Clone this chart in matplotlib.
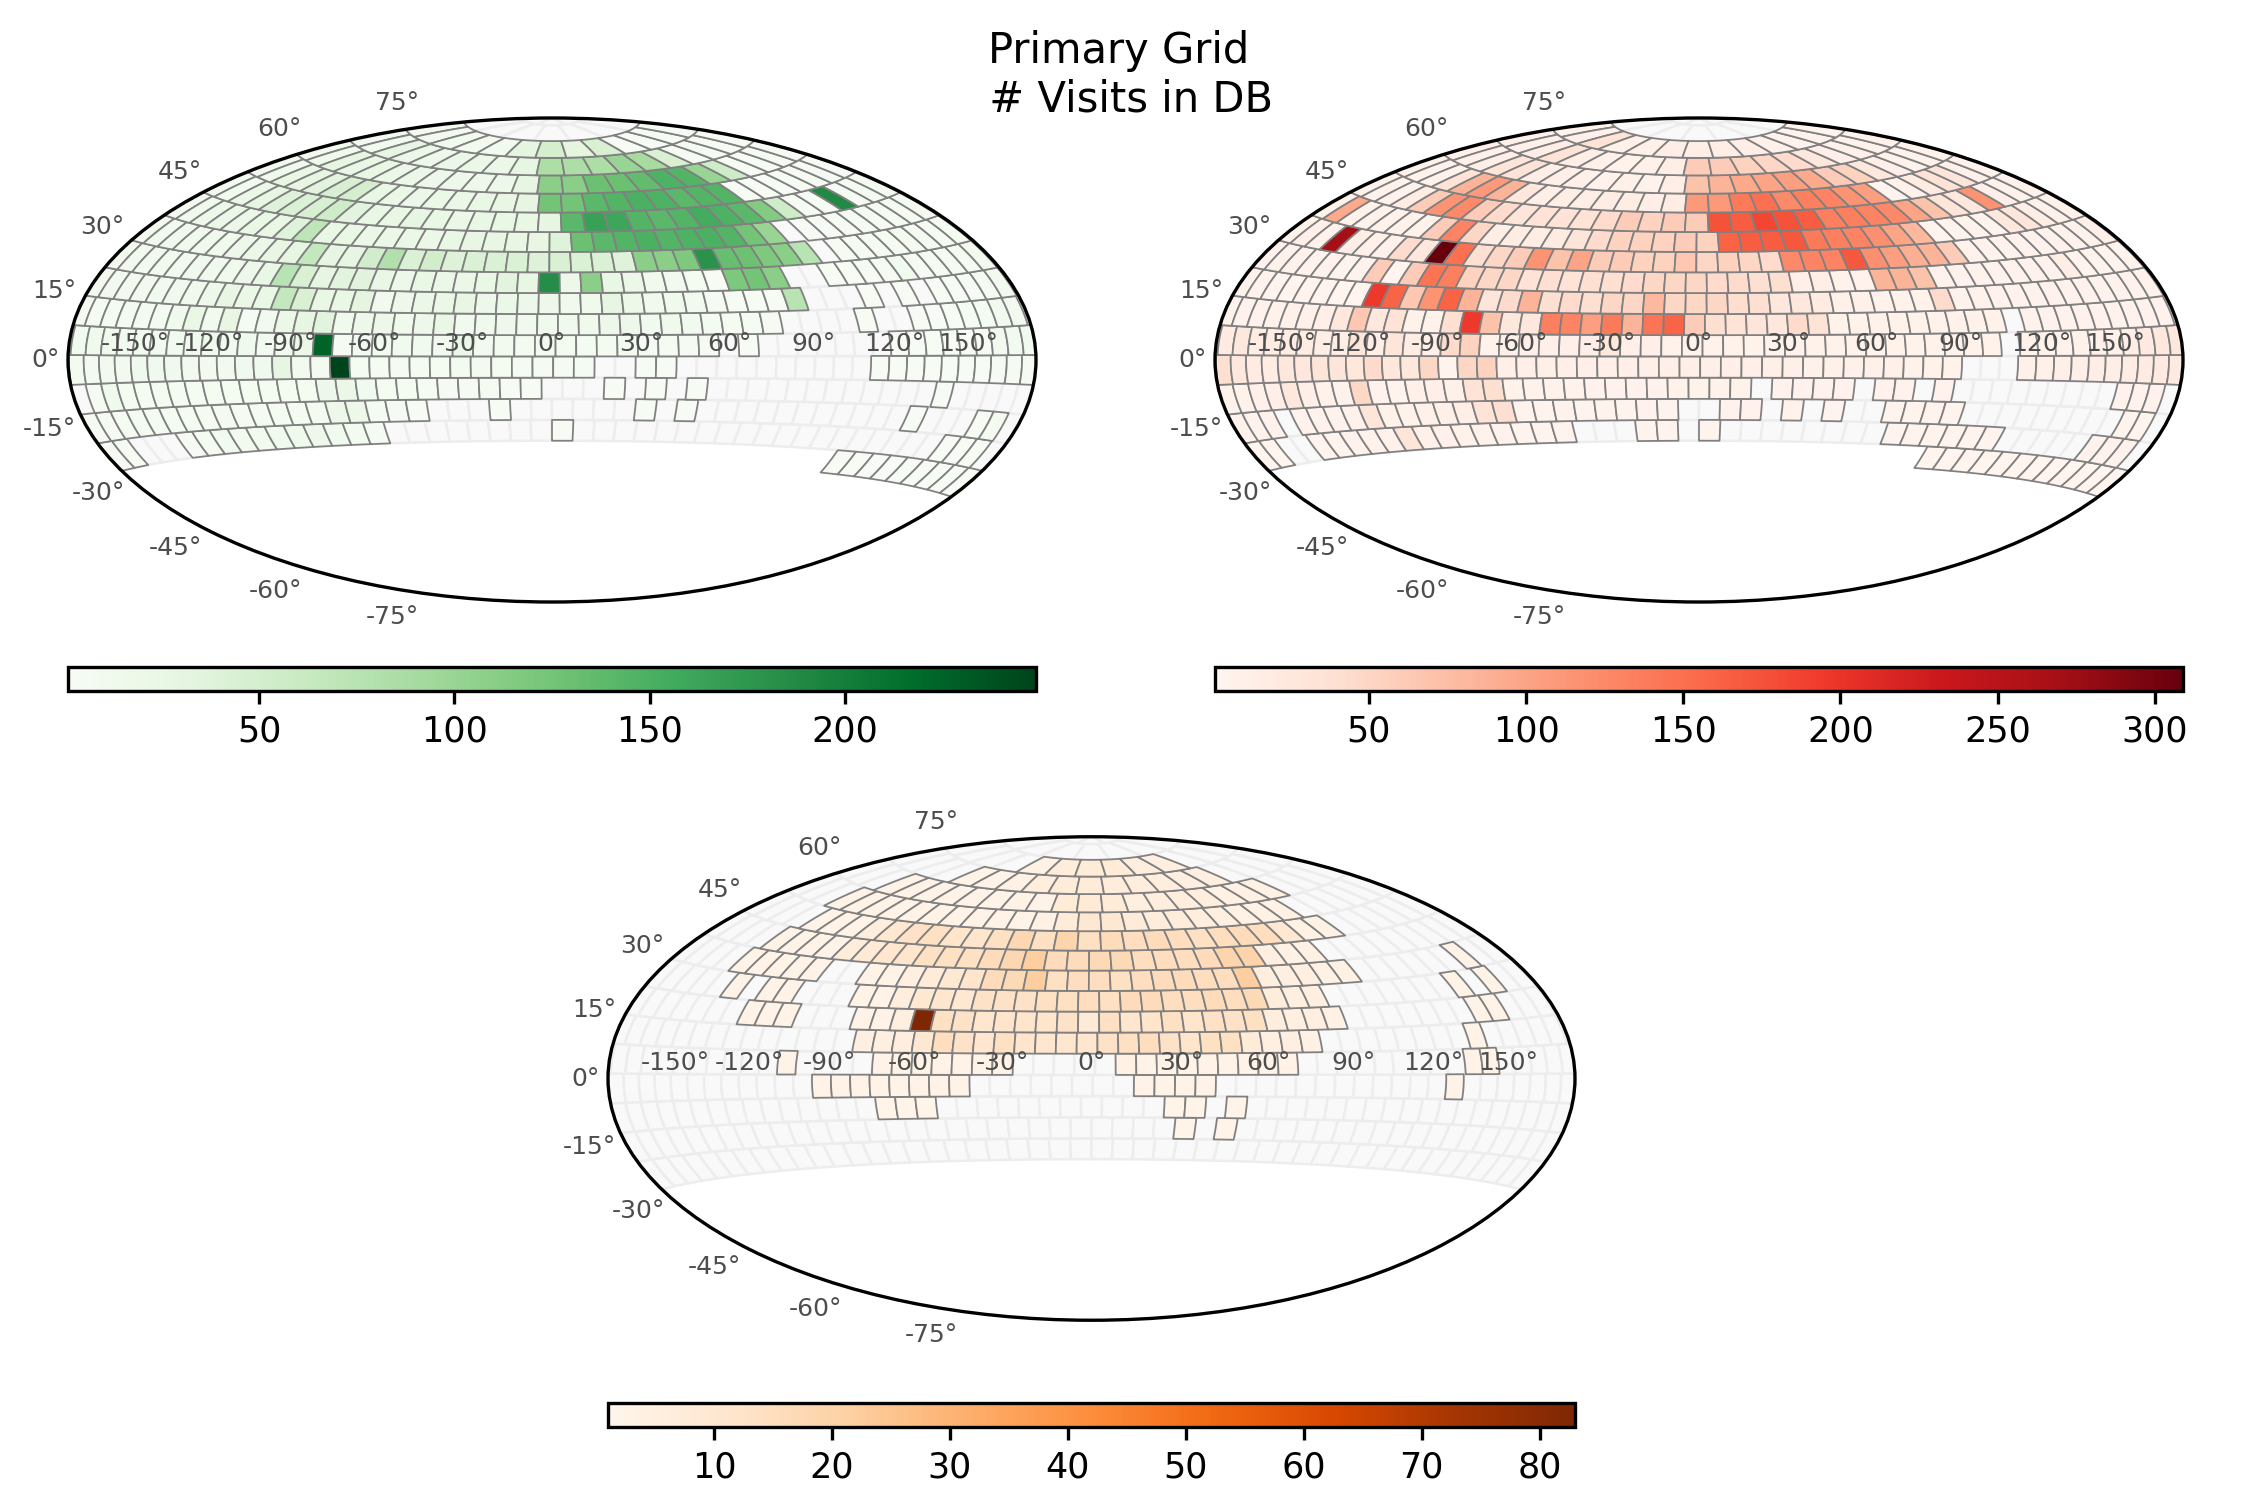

import numpy as np, matplotlib
matplotlib.use('Agg')
import matplotlib.pyplot as plt
from matplotlib.collections import PolyCollection
from matplotlib.colors import Normalize
from matplotlib.cm import ScalarMappable

# grid: latitude bands and number of cells in each band (0 = no visits)
lat_edges = [1.2 + 7.12 * k for k in range(-5, 13)]
cells_per_row = [46, 48, 50, 51, 52, 52, 51, 49, 47, 44, 40, 35, 31, 25, 19, 13]
row_shift = [0, 0, 0, 0, 0.4, 1.2, -1.5, -1, -1, -1, -1, -1, -1, -1, -1, -1]

G0 = [0]*37 + [3]*9
G1 = [4,4,0,0,0,5,7,12,10,10,12,15,18,12,8,6] + [0]*8 + [3] + [0]*19 + [3,3,3,0]
G2 = [5,5,7,7,7,7,7,7,8,7,7,7,7,8,18,18,6,4,3,0,0,0,3] + [0]*6 + [3,0,3] + [0]*11 + [3,0,0,0,3,8,0]
G3 = [0,5,15,7,7,7,7,7,7,7,7,7,7,7,18,22,12,7,7,6,5,5,4,3,3,0,0,0,3,0,3,0,3] + [0]*12 + [3] + [0]*5
G4 = [8,8,10,10,13,13,13,10,10,10,13,13,30,10,8,249,7,7,7,7,7,8,8,7,6,6,6,6,0,0,3,3] + [0]*10 + [3,3,3,3,3,3,3,4,4,4]
G5 = [12,15,15,12,12,12,12,12,15,12,15,12,12,22,225,4,12,12,12,12,10,22,10,10,8,8,8,7,8,10,5,5,4,4,0,3] + [0]*7 + [3,3,3,3,3,5,9,12,12]
G6 = [8,7,7,8,8,8,15,25,12,28,6,12,22,30,35,15,18,18,15,18,24,12,15,18,15,15,15,15,18,18,12,15,12,7,7,6,5,0,0,0,0,3,0,0,3,2,3,6,6,10,10]
G7 = [10,10,10,10,11,13,15,18,28,22,26,65,45,26,25,32,10,18,22,22,28,18,22,18,18,15,15,30,20,15,15,9,5,3,3,3,75,0,0,0,3,0,3,0,3,3,2,4,10]
G8 = [10,10,10,11,11,13,13,15,18,26,75,45,30,34,36,25,18,25,22,22,25,34,28,185,18,110,26,22,15,9,7,3,120,125,110,0,0,3,3,5,5,12,5,5,5,7,10]
G9 = [10,11,13,15,15,15,18,22,28,30,65,30,30,52,80,42,52,40,42,42,42,40,45,42,42,38,110,110,118,180,132,128,118,110,75,0,5,5,5,7,8,8,7,7]
G10 = [10,15,18,22,22,25,26,38,70,26,25,22,22,22,22,26,28,28,28,28,38,130,140,145,150,145,148,150,145,125,100,0,4,4,4,4,4,7,7,8]
G11 = [10,12,22,30,40,42,46,55,34,26,25,30,25,22,25,25,25,30,140,165,160,145,140,145,155,148,140,115,55,3,3,188,5,7,8]
G12 = [10,15,26,30,35,46,50,26,22,22,22,22,26,28,30,125,125,140,145,150,148,140,145,145,3,3,3,3,4,4,5]
G13 = [10,15,30,26,26,22,22,18,18,18,18,30,110,110,130,130,135,148,145,100,55,2,2,4,4]
G14 = [10,12,30,22,18,22,22,22,30,85,85,85,100,90,45,5,4,4,4]
G15 = [10,10,12,10,12,32,50,32,45,2,2,4,4]

R0 = [0]*34 + [4]*12
R1 = [4,4,0,0,5,5,6,8,8,30,10,10,8,8,6,5,5,5,0,0,0,5,5,0,5] + [0]*8 + [5]*6 + [0]*5 + [6,6,6,0]
R2 = [6,6,6,0,7,7,7,8,30,8,8,10,12,15,35,40,5,5,6,5,5,5,6,5,0,0,6,6,0,6,0,5,0,0,5,5,5,5] + [0]*9 + [5,5,0]
R3 = [6,8,10,12,25,12,8,6,48,6,5,10,12,10,35,40,8,8,8,7,7,7,7,7,8,8,8,8,0,6,6,7,7,0,6,6,0,6] + [0]*9 + [6,6,6,0]
R4 = [40,25,20,18,25,25,30,30,28,45,28,28,50,5,50,55] + [12]*12 + [12,12,12,10,10,10,10,10,8,8,8,0,0,0,10,10,12,12,14,14,18,20,22,22]
R5 = [20,25,18,18,18,18,15,15,30,15,30,18,12,45,55,8,12,12,12,12,14,28,12,12,8,8,8] + [8]*14 + [0,8,8,8,8,10,10,14,22,25,25]
R6 = [7,7,7,8,10,10,12,25,65,25,35,8,8,40,195,70,25,25,135,130,105,140,85,145,160,60,40,35,30,25,45,35] + [8]*9 + [0] + [6]*9
R7 = [6,6,5,4,5,5,4,4,195,160,65,115,160,85,30,45,85,40,45,40,50,50,80,50,50,50,42,40,25,25,20,10,10,8,8,8,45] + [6]*12
R8 = [6,8,6,6,6,5,6,60,4,60,145,135,55,50,50,35,40,35,40,40,45,50,50,50,45,45,40,40,12,15,8,6,85,85,70] + [6]*7 + [15,5,5,5,5]
R9 = [8,12,8,270,15,10,10,45,25,309,150,40,50,60,115,70,100,60,60,55,55,65,50,55,50,45,125,130,130,170,120,105,90,85,60,7,7,7,7,7,7,7,7,12]
R10 = [8,95,8,8,8,8,8,60,130,50,15,18,18,20,30,45,55,55,55,60,55,160,165,165,170,140,135,130,120,100,80,5,5,5,5,25,30,15,10,8]
R11 = [6,6,6,18,60,115,125,60,45,30,35,35,35,45,60,55,60,60,175,165,185,175,165,135,135,130,125,100,70,30,25,115,12,8,6]
R12 = [8,8,8,35,85,110,85,25,12,15,15,18,18,14,16,110,110,140,150,125,135,130,115,105,5,8,20,35,30,10,8]
R13 = [10,10,12,30,35,14,12,10,8,10,8,14,70,85,95,100,105,95,60,55,25,12,8,8,6]
R14 = [10,10,15,35,14,10,8,10,15,60,60,55,50,45,25,12,10,8,8]
R15 = [8,10,35,10,10,14,15,15,14,10,6,6,5]

O0 = []
O1 = []
O2 = [0]*29 + [2,0,2]
O3 = [0]*15 + [2,2,2] + [0]*11 + [2,2,0,2]
O4 = [0]*12 + [3]*8 + [0]*8 + [3]*4 + [0]*12 + [3]
O5 = [0]*10 + [3] + [0]*4 + [3]*7 + [0]*5 + [4,3,3,3,3,3,3,3,3] + [0]*9 + [3,3]
O6 = [0]*14 + [5,5,6,10,15,13,11,14,12,11,11,11,13,14,15,13,12,14,14,8,5,5,4] + [0]*8 + [3]
O7 = [0]*7 + [3,3,3,0,0,0,3,3,5,83,14,13,11,12,12,12,13,9,14,11,12,14,12,13,13,14,6,5,5,4] + [0]*7 + [3,3]
O8 = [0]*5 + [3,0,3,3,0,0,0,3,3,6,10,11,10,13,13,13,14,14,15,14,16,16,15,15,16,15,17,7,5,5] + [0]*7 + [3,0,3]
O9 = [0]*4 + [3]*5 + [0,0,3,3,5,8,10,12,16,17,22,14,15,15,14,15,16,16,15,15,22,6,5,5,4,4] + [0]*6 + [3]
O10 = [0]*4 + [3,3,3,3,7,9,11,12,14,14,14,16,18,22,16,16,17,17,15,15,15,16,19,20,5,4,4]
O11 = [0]*4 + [3,3,3,6,10,13,14,12,12,14,18,14,19,14,16,15,16,15,14,15,16,15,10,4,4]
O12 = [0]*3 + [3,3,3,3,3,3,3,3,3,3,4,8,10,10,8,7,7,6,5,4,4,4]
O13 = [0]*3 + [3,3,3,3,3,3,3,3,8,9,8,5,6,6,6,4,4,4]
O14 = [0]*4 + [3,3,4,6,8,8,7,6,6,5,5]
O15 = [0]*4 + [4,7,8,8,6,5]

greens = [G0,G1,G2,G3,G4,G5,G6,G7,G8,G9,G10,G11,G12,G13,G14,G15]
reds = [R0,R1,R2,R3,R4,R5,R6,R7,R8,R9,R10,R11,R12,R13,R14,R15]
oranges = [O0,O1,O2,O3,O4,O5,O6,O7,O8,O9,O10,O11,O12,O13,O14,O15]

W, H = 2250, 1500
fig = plt.figure(figsize=(7.5, 5), dpi=300)

def axes_px(l, t, r, b, **kw):
    return fig.add_axes([l/W, 1-b/H, (r-l)/W, (b-t)/H], **kw)

def cell(lon, w, a, b):
    l0, l1 = np.clip([lon, lon+w], -180, 180)
    return np.radians([[l0, a], [l1, a], [l1, b], [l0, b]])

def panel(box, rows, cmap, vmax, cbox):
    ax = axes_px(*box, projection='hammer')
    ax.grid(False)
    ax.tick_params(labelsize=6, labelcolor='#4d4d4d')
    back, verts, vals = [], [], []
    for i, n in enumerate(cells_per_row):
        a, b = lat_edges[i], lat_edges[i+1]
        w = 360/n
        row = list(rows[i]) + [0]*(n-len(rows[i]))
        for j in range(n):
            c = cell(-180+j*w+row_shift[i], w, a, b)
            if i > 0:
                back.append(c)
            if row[j] > 0:
                verts.append(c)
                vals.append(row[j])
    for a, b, n in [(lat_edges[16], lat_edges[17], 7), (lat_edges[17], 90, 3)]:
        w = 360/n
        for j in range(n):
            back.append(cell(-180+j*w, w, a, b))
    ax.add_collection(PolyCollection(back, facecolor='#f9f9f9', edgecolor='#ededed', linewidth=.6, zorder=1))
    norm = Normalize(1, vmax)
    ax.add_collection(PolyCollection(verts, array=np.array(vals, float), cmap=cmap, norm=norm,
                                     edgecolor='gray', linewidth=.42, zorder=1.5))
    cax = axes_px(*cbox)
    cb = fig.colorbar(ScalarMappable(norm, cmap), cax=cax, orientation='horizontal')
    cb.ax.tick_params(labelsize=8.4, length=3, width=.8, pad=2.6)
    cb.outline.set_linewidth(.8)
    return ax

panel((68, 118, 1036, 602), greens, 'Greens', 249, (68, 667, 1036, 691))
panel((1215, 118, 2183, 602), reds, 'Reds', 309, (1215, 667, 2183, 691))
panel((608, 836.5, 1575, 1320.5), oranges, 'Oranges', 83, (608, 1403, 1575, 1427))
fig.suptitle('Primary Grid \n # Visits in DB', fontsize=10, y=.98)
fig.savefig('out.png')
